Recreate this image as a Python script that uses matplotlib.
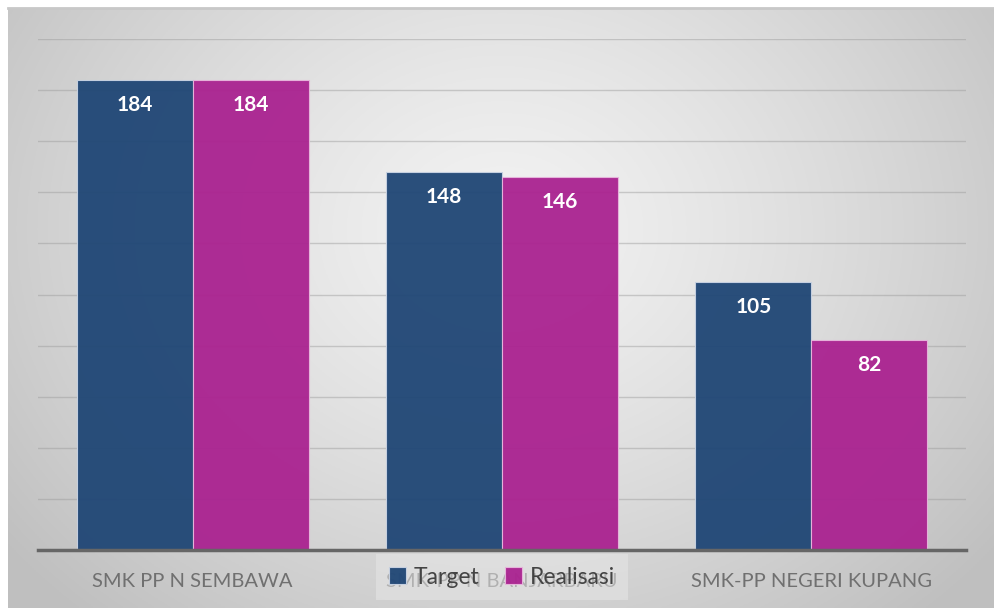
import numpy as np
import matplotlib.pyplot as plt

categories = ["SMK PP N SEMBAWA", "SMK-PP N BANJARBARU", "SMK-PP NEGERI KUPANG"]
target = [184, 148, 105]
realisasi = [184, 146, 82]
series_names = ["Target", "Realisasi"]

W, H = 995, 608
fig = plt.figure(figsize=(W / 100, H / 100), dpi=100)
fig.patch.set_facecolor("white")

# background gradient panel
bg = fig.add_axes([8 / W, 0, (W - 8) / W, (H - 8) / H])
yy, xx = np.mgrid[0:300, 0:500]
cx, cy = 250, 110
r = np.sqrt(((xx - cx) / 320.0) ** 2 + ((yy - cy) / 260.0) ** 2)
r = np.clip(r, 0, 1)
light = np.array([0.95, 0.95, 0.95])
dark = np.array([0.75, 0.75, 0.75])
img = light[None, None, :] * (1 - r[..., None] ** 1.3) + dark[None, None, :] * (r[..., None] ** 1.3)
bg.imshow(img, aspect="auto", extent=[0, 1, 0, 1], origin="upper")
bg.set_xlim(0, 1)
bg.set_ylim(0, 1)
bg.axis("off")
fig.add_artist(plt.Line2D([8 / W, 1], [1 - 8 / H, 1 - 8 / H], color="#c8c8c8", lw=2))

ax = fig.add_axes([38 / W, (H - 550) / H, (966 - 38) / W, (550 - 39) / H])
ax.patch.set_alpha(0)
x = np.arange(len(categories))
w = 0.375
b1 = ax.bar(x - w / 2, target, w, color="#1F4675", alpha=0.95, edgecolor="#c9d3e3",
            linewidth=0.8, label=series_names[0], zorder=3)
b2 = ax.bar(x + w / 2, realisasi, w, color="#AA2290", alpha=0.95, edgecolor="#e7b6dc",
            linewidth=0.8, label=series_names[1], zorder=3)

for bars, vals in ((b1, target), (b2, realisasi)):
    for rect, v in zip(bars, vals):
        ax.annotate(str(v), (rect.get_x() + rect.get_width() / 2, v), xytext=(0, -18),
                    textcoords="offset points", ha="center", va="center",
                    color="white", fontsize=15, fontweight="bold", family="Lato", zorder=5)

ax.set_xlim(-0.5, 2.5)
ax.set_ylim(0, 200)
ax.set_yticks(np.arange(20, 201, 20))
ax.yaxis.grid(True, color="#9a9a9a", alpha=0.45, lw=1, zorder=0)
ax.tick_params(axis="y", left=False, labelleft=False)
ax.tick_params(axis="x", bottom=False, pad=13)
ax.set_xticks(x)
ax.set_xticklabels(categories, fontsize=14.5, color="#707070", family="Lato")
for s in ("top", "right", "left"):
    ax.spines[s].set_visible(False)
ax.spines["bottom"].set_color("#666666")
ax.spines["bottom"].set_linewidth(2.5)
ax.spines["bottom"].set_zorder(4)

leg = ax.legend(loc="center", bbox_to_anchor=(502 / W, 1 - 577 / H), bbox_transform=fig.transFigure,
                ncol=2, frameon=True, handlelength=0.75, handleheight=0.75,
                handletextpad=0.35, columnspacing=1.1, borderpad=0.55, fancybox=False,
                prop={"family": "Lato", "size": 16.5})
leg.get_frame().set_facecolor("#e6e6e6")
leg.get_frame().set_alpha(0.55)
leg.get_frame().set_edgecolor("none")
for t in leg.get_texts():
    t.set_color("#444444")

fig.savefig("out.png", dpi=100)
